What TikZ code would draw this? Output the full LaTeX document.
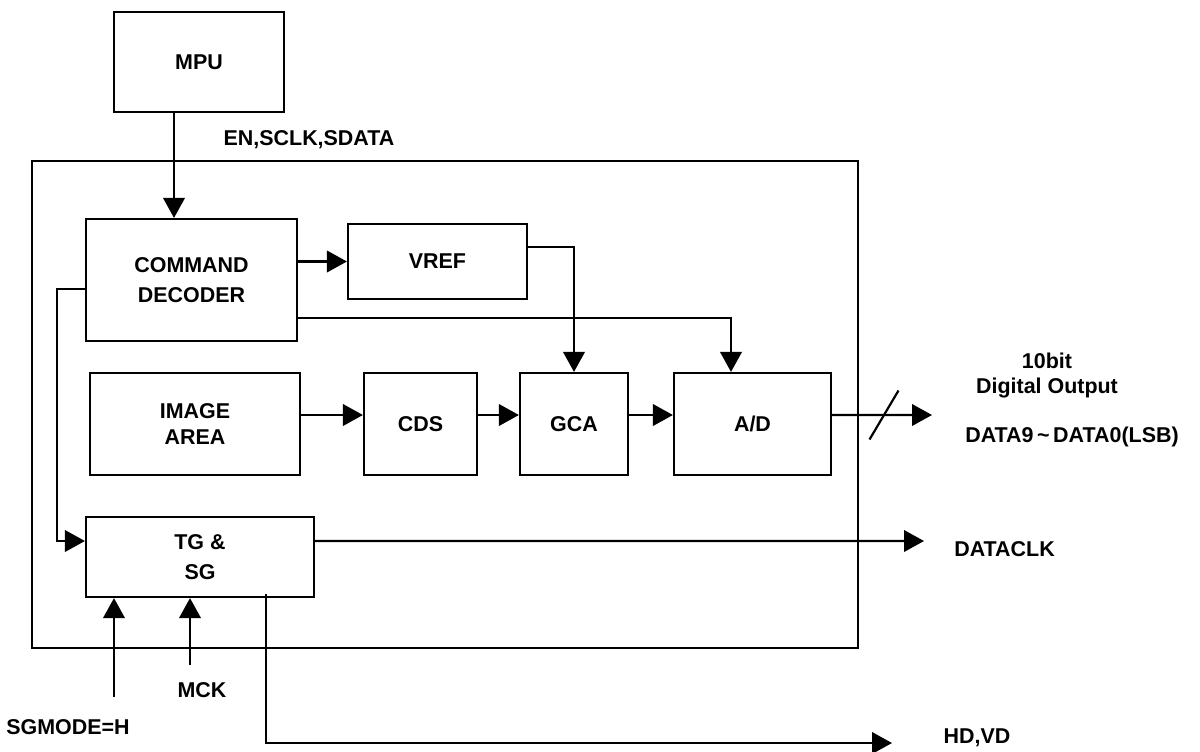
\documentclass[tikz,border=0pt]{standalone}
\usepackage{fontspec}
\setmainfont{Liberation Sans}
\usetikzlibrary{arrows.meta}
\begin{document}
\begin{tikzpicture}[x=0.02cm, y=-0.02cm,
  blk/.style={draw, line width=1.25pt, align=center, inner sep=0pt, font=\bfseries\fontsize{12.2}{17}\selectfont},
  lbl/.style={align=center, inner sep=0pt, font=\bfseries\fontsize{12.2}{17}\selectfont},
  sig/.style={draw, line width=1.25pt, -{Triangle[length=0.4cm, width=0.43cm]}}]
  \useasboundingbox (0,0) rectangle (1200,751);
  \node[blk, minimum width=16.52cm, minimum height=9.74cm] (chip) at (445,404.5) {};
  \node[blk, minimum width=3.4cm, minimum height=2cm] (mpu) at (199,62) {MPU};
  \node[blk, minimum width=4.22cm, minimum height=2.44cm] (cmd) at (191.5,280) {COMMAND\\DECODER};
  \node[blk, minimum width=3.58cm, minimum height=1.5cm] (vref) at (437.5,261.5) {VREF};
  \node[blk, minimum width=4.2cm, minimum height=2.04cm] (img) at (195,424) {IMAGE\\[-2pt]AREA};
  \node[blk, minimum width=2.26cm, minimum height=2.04cm] (cds) at (420.5,424) {CDS};
  \node[blk, minimum width=2.16cm, minimum height=2.04cm] (gca) at (574,424) {GCA};
  \node[blk, minimum width=3.14cm, minimum height=2.04cm] (ad) at (752.5,424) {A/D};
  \node[blk, minimum width=4.56cm, minimum height=1.6cm] (tg) at (200,557) {TG \&\\SG};
  \coordinate (dout) at (932,415);
  \coordinate (clkout) at (924,541);
  \coordinate (hdout) at (892,743);
  \coordinate (sgin) at (114,697);
  \coordinate (mckin) at (190,665);
  \node[lbl] (bus) at (309,140) {EN,SCLK,SDATA};
  \node[lbl] (dlbl) at (1047,375.5) {10bit\\[-2.8pt]Digital Output};
  \node[lbl] (dname) at (1072,437) {DATA9\,\textasciitilde\,DATA0(LSB)};
  \node[lbl, anchor=west] (clk) at (954,549) {DATACLK};
  \node[lbl] (mck) at (202,690) {MCK};
  \node[lbl] (sgm) at (68,727) {SGMODE=H};
  \node[lbl] (hd) at (977,738) {HD,VD};
  \draw[sig] ([xshift=-0.5cm]mpu.south) -- ([xshift=-0.5cm]mpu.south |- cmd.north);
  \draw[sig] (cmd.east |- vref.west) -- (vref.west);
  \draw[sig] ([yshift=0.29cm]vref.east) -| (gca.north);
  \draw[sig] ([yshift=-0.76cm]cmd.east) -| ([xshift=-0.43cm]ad.north);
  \foreach \a/\b in {img/cds, cds/gca, gca/ad}
    \draw[sig] ([yshift=0.18cm]\a.east) -- ([yshift=0.18cm]\b.west);
  \draw[sig] ([yshift=0.18cm]ad.east) -- (dout);
  \draw[line width=1.25pt] (884,415) ++(-0.29cm,-0.49cm) -- ++(0.58cm,0.98cm);
  \draw[sig] ([yshift=-0.18cm]cmd.west) -- ++(-0.56cm,0) |- ([yshift=0.32cm]tg.west);
  \draw[sig] ([yshift=0.32cm]tg.east) -- (clkout);
  \draw[sig] (sgin) -- (sgin |- tg.south);
  \draw[sig] (mckin) -- (mckin |- tg.south);
  \draw[sig] ([xshift=1.32cm, yshift=0.08cm]tg.south) |- (hdout);
\end{tikzpicture}
\end{document}
